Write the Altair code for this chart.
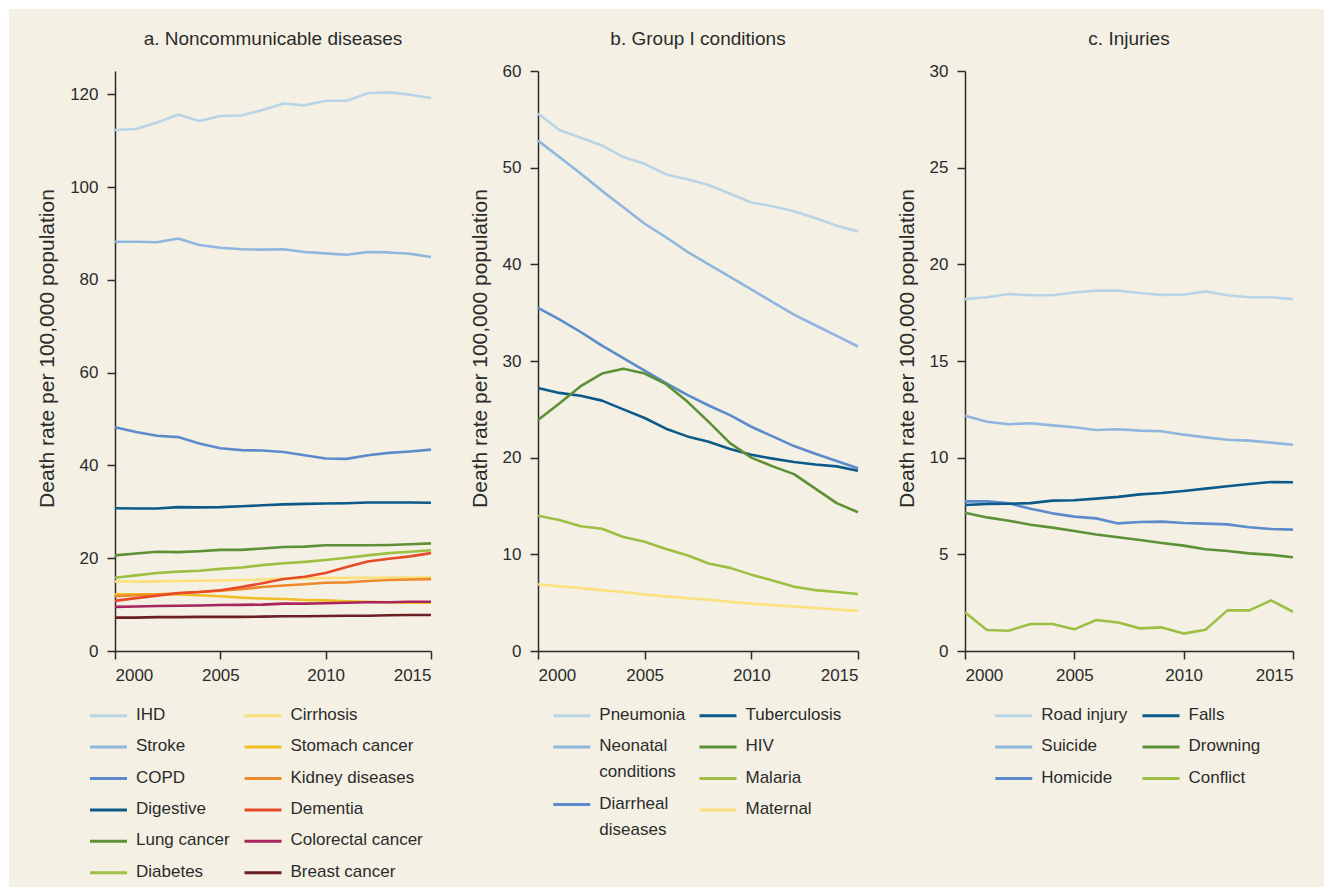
import altair as alt
import pandas as pd

YEARS = list(range(2000, 2016))

# a. Noncommunicable diseases (deaths per 100,000)
IHD = [112.3, 112.5, 113.9, 115.6, 114.2, 115.3, 115.4, 116.6, 118.0, 117.6, 118.6, 118.6, 120.2, 120.4, 119.9, 119.2]
STROKE = [88.2, 88.2, 88.1, 88.9, 87.5, 86.9, 86.6, 86.5, 86.6, 86.0, 85.7, 85.4, 86.0, 85.9, 85.6, 84.9]
COPD = [48.2, 47.2, 46.4, 46.1, 44.7, 43.7, 43.3, 43.2, 42.9, 42.2, 41.5, 41.4, 42.2, 42.7, 43.0, 43.4]
DIGESTIVE = [30.75, 30.7, 30.7, 31.0, 30.95, 31.0, 31.2, 31.4, 31.6, 31.7, 31.8, 31.85, 32.0, 32.0, 32.0, 31.95]
LUNG_CANCER = [20.6, 21.0, 21.4, 21.3, 21.5, 21.8, 21.8, 22.1, 22.4, 22.5, 22.8, 22.8, 22.8, 22.85, 23.0, 23.2]
DIABETES = [15.8, 16.3, 16.8, 17.1, 17.3, 17.7, 18.0, 18.5, 18.9, 19.2, 19.6, 20.1, 20.6, 21.1, 21.4, 21.7]
CIRRHOSIS = [15.0, 14.95, 15.0, 15.1, 15.15, 15.2, 15.3, 15.4, 15.6, 15.65, 15.7, 15.75, 15.8, 15.85, 15.85, 15.9]
STOMACH_CANCER = [12.2, 12.2, 12.2, 12.2, 12.0, 11.8, 11.5, 11.3, 11.2, 11.0, 10.9, 10.7, 10.6, 10.5, 10.4, 10.4]
KIDNEY_DISEASES = [11.8, 12.0, 12.2, 12.4, 12.7, 13.0, 13.3, 13.8, 14.1, 14.4, 14.7, 14.8, 15.1, 15.3, 15.4, 15.5]
DEMENTIA = [10.8, 11.4, 11.9, 12.5, 12.7, 13.1, 13.8, 14.6, 15.5, 16.0, 16.8, 18.1, 19.3, 19.9, 20.4, 21.1]
COLORECTAL_CANCER = [9.5, 9.6, 9.7, 9.75, 9.8, 9.9, 9.95, 10.0, 10.2, 10.2, 10.3, 10.4, 10.5, 10.5, 10.6, 10.6]
BREAST_CANCER = [7.2, 7.2, 7.3, 7.3, 7.35, 7.35, 7.35, 7.4, 7.5, 7.5, 7.55, 7.6, 7.6, 7.7, 7.75, 7.75]

# b. Group I conditions
PNEUMONIA = [55.6, 53.9, 53.1, 52.3, 51.1, 50.4, 49.3, 48.8, 48.2, 47.3, 46.4, 46.0, 45.5, 44.8, 44.0, 43.4]
NEONATAL = [52.8, 51.1, 49.4, 47.6, 45.9, 44.2, 42.8, 41.3, 40.0, 38.7, 37.4, 36.1, 34.8, 33.7, 32.6, 31.5]
DIARRHEAL = [35.5, 34.3, 33.0, 31.6, 30.3, 29.0, 27.7, 26.5, 25.4, 24.4, 23.2, 22.2, 21.2, 20.4, 19.65, 18.9]
TUBERCULOSIS = [27.2, 26.7, 26.4, 25.9, 25.0, 24.1, 23.0, 22.2, 21.65, 20.9, 20.3, 19.9, 19.55, 19.3, 19.1, 18.65]
HIV = [23.9, 25.6, 27.4, 28.7, 29.2, 28.7, 27.6, 25.8, 23.7, 21.5, 20.0, 19.1, 18.3, 16.8, 15.3, 14.35]
MALARIA = [14.0, 13.55, 12.9, 12.65, 11.8, 11.3, 10.55, 9.9, 9.05, 8.6, 7.9, 7.3, 6.65, 6.3, 6.1, 5.9]
MATERNAL = [6.9, 6.7, 6.5, 6.3, 6.1, 5.85, 5.65, 5.45, 5.3, 5.1, 4.9, 4.75, 4.6, 4.45, 4.3, 4.15]

# c. Injuries
ROAD_INJURY = [18.2, 18.3, 18.47, 18.4, 18.4, 18.54, 18.64, 18.64, 18.52, 18.42, 18.43, 18.6, 18.4, 18.3, 18.3, 18.2]
SUICIDE = [12.17, 11.86, 11.73, 11.78, 11.67, 11.57, 11.43, 11.47, 11.4, 11.37, 11.19, 11.05, 10.93, 10.88, 10.78, 10.67]
HOMICIDE = [7.74, 7.74, 7.64, 7.36, 7.12, 6.95, 6.86, 6.6, 6.67, 6.69, 6.62, 6.59, 6.55, 6.4, 6.31, 6.28]
FALLS = [7.55, 7.6, 7.62, 7.65, 7.78, 7.8, 7.88, 7.97, 8.1, 8.17, 8.28, 8.4, 8.52, 8.64, 8.74, 8.73]
DROWNING = [7.15, 6.91, 6.74, 6.53, 6.38, 6.21, 6.03, 5.88, 5.74, 5.59, 5.45, 5.26, 5.17, 5.05, 4.97, 4.85]
CONFLICT = [2.0, 1.09, 1.05, 1.4, 1.4, 1.12, 1.6, 1.47, 1.17, 1.22, 0.9, 1.1, 2.1, 2.1, 2.62, 2.03]

# palette shared across panels
C_LIGHT_BLUE = "#b9d4e7"
C_MID_BLUE = "#8fb6de"
C_BLUE = "#5b8bcb"
C_NAVY = "#0c5a8a"
C_GREEN = "#5d9037"
C_LIME = "#9cbf44"
C_PALE_YELLOW = "#fbe07d"
C_GOLD = "#efbd24"
C_ORANGE = "#ee8a2c"
C_RED = "#e84a27"
C_MAGENTA = "#a8255e"
C_MAROON = "#6b1f22"

FONT = "Liberation Sans"
BG = "#f4f1e4"
INK = "#2b2b2b"
PLOT_H = 580
LEGEND_FS = 17


def long_table(names, series):
    rows = []
    for name, values in zip(names, series):
        for year, v in zip(YEARS, values):
            rows.append({"year": year, "cause": name, "rate": v})
    return pd.DataFrame(rows)


def panel(title, names, series, colors, ymax, ystep, ytop, width, title_dy):
    df = long_table(names, series)
    return (
        alt.Chart(df, title=alt.TitleParams(title, frame="group", anchor="middle", dy=title_dy))
        .mark_line(strokeWidth=2.6, strokeJoin="round")
        .encode(
            x=alt.X("year:Q", scale=alt.Scale(domain=[2000, 2015], nice=False),
                    axis=alt.Axis(values=[2000, 2005, 2010, 2015], format="d", title=None,
                                  labelPadding=8)),
            y=alt.Y("rate:Q", scale=alt.Scale(domain=[0, ytop], nice=False),
                    axis=alt.Axis(values=list(range(0, ymax + 1, ystep)),
                                  title="Death rate per 100,000 population",
                                  labelPadding=9, titlePadding=12, titleY=277)),
            color=alt.Color("cause:N", scale=alt.Scale(domain=names, range=colors), legend=None),
            detail="cause:N",
        )
        .properties(width=width, height=PLOT_H)
    )


def legend(columns, col_starts, width):
    """columns: list of [(label, color), ...] per legend column."""
    row_step = 31.4
    extra_line = 26
    rows = []
    for col_idx, entries in enumerate(columns):
        y = 15.7
        for label, color in entries:
            x1 = col_starts[col_idx]
            rows.append({"label": label, "color": color, "x1": x1, "x2": x1 + 37,
                         "tx": x1 + 46, "y": y})
            y += row_step + extra_line * label.count("\n")
    df = pd.DataFrame(rows)
    base = alt.Chart(df)
    swatches = base.mark_rule(strokeWidth=3).encode(
        x=alt.X("x1:Q", scale=None, axis=None),
        x2="x2:Q",
        y=alt.Y("y:Q", scale=None, axis=None),
        color=alt.Color("color:N", scale=None),
    )
    labels = base.mark_text(
        align="left", baseline="top", dy=-9, fontSize=LEGEND_FS, font=FONT, color=INK,
        lineBreak="\n", lineHeight=26,
    ).encode(
        x=alt.X("tx:Q", scale=None, axis=None),
        y=alt.Y("y:Q", scale=None, axis=None),
        text="label:N",
    )
    return alt.layer(swatches, labels).properties(width=width, height=180)


A_NAMES = ["IHD", "Stroke", "COPD", "Digestive", "Lung cancer", "Diabetes", "Cirrhosis",
           "Stomach cancer", "Kidney diseases", "Dementia", "Colorectal cancer", "Breast cancer"]
A_SERIES = [IHD, STROKE, COPD, DIGESTIVE, LUNG_CANCER, DIABETES, CIRRHOSIS, STOMACH_CANCER,
            KIDNEY_DISEASES, DEMENTIA, COLORECTAL_CANCER, BREAST_CANCER]
A_COLORS = [C_LIGHT_BLUE, C_MID_BLUE, C_BLUE, C_NAVY, C_GREEN, C_LIME, C_PALE_YELLOW, C_GOLD,
            C_ORANGE, C_RED, C_MAGENTA, C_MAROON]

B_NAMES = ["Pneumonia", "Neonatal conditions", "Diarrheal diseases", "Tuberculosis", "HIV",
           "Malaria", "Maternal"]
B_SERIES = [PNEUMONIA, NEONATAL, DIARRHEAL, TUBERCULOSIS, HIV, MALARIA, MATERNAL]
B_COLORS = [C_LIGHT_BLUE, C_MID_BLUE, C_BLUE, C_NAVY, C_GREEN, C_LIME, C_PALE_YELLOW]
B_LABELS = ["Pneumonia", "Neonatal\nconditions", "Diarrheal\ndiseases", "Tuberculosis", "HIV",
            "Malaria", "Maternal"]

C_NAMES = ["Road injury", "Suicide", "Homicide", "Falls", "Drowning", "Conflict"]
C_SERIES = [ROAD_INJURY, SUICIDE, HOMICIDE, FALLS, DROWNING, CONFLICT]
C_COLORS = [C_LIGHT_BLUE, C_MID_BLUE, C_BLUE, C_NAVY, C_GREEN, C_LIME]

W_A, W_B, W_C = 316, 320, 328

# the top tick label of panels b and c sits on the frame edge and lifts the title;
# push those two titles back down so all three share one baseline
plot_a = panel("a. Noncommunicable diseases", A_NAMES, A_SERIES, A_COLORS, 120, 20, 125, W_A, 0)
plot_b = panel("b. Group I conditions", B_NAMES, B_SERIES, B_COLORS, 60, 10, 60, W_B, 9)
plot_c = panel("c. Injuries", C_NAMES, C_SERIES, C_COLORS, 30, 5, 30, W_C, 9)

a_pairs = list(zip(A_NAMES, A_COLORS))
b_pairs = list(zip(B_LABELS, B_COLORS))
c_pairs = list(zip(C_NAMES, C_COLORS))

leg_a = legend([a_pairs[:6], a_pairs[6:]], [-25, 129.5], W_A)
leg_b = legend([b_pairs[:3], b_pairs[3:]], [15.3, 161.5], W_B)
leg_c = legend([c_pairs[:3], c_pairs[3:]], [30.3, 177.5], W_C)

chart = (
    alt.concat(plot_a, plot_b, plot_c, leg_a, leg_b, leg_c, columns=3,
               spacing={"row": 49, "column": 107}, bounds="flush", align="each")
    .resolve_scale(color="independent", x="independent", y="independent")
    .properties(background=BG, padding={"left": 27, "top": 21, "right": 29, "bottom": 7})
    .configure_view(stroke=None)
    .configure_axis(
        domainColor=INK, domainWidth=1.5, tickColor=INK, tickWidth=1.5, tickSize=8,
        labelFont=FONT, labelFontSize=17, labelColor=INK,
        titleFont=FONT, titleFontSize=21, titleFontWeight="normal", titleColor=INK,
        grid=False,
    )
    .configure_title(font=FONT, fontSize=19, fontWeight="normal", color=INK, offset=22)
)

chart.save("out.html", embed_options={"renderer": "svg", "actions": False})

# white page margin around the chart
with open("out.html", encoding="utf-8") as fh:
    html = fh.read()
html = html.replace("</head>", "<style>body{margin:0;background:#ffffff}#vis{padding:9px 0 0 9px;box-sizing:border-box}</style></head>", 1)
with open("out.html", "w", encoding="utf-8") as fh:
    fh.write(html)
